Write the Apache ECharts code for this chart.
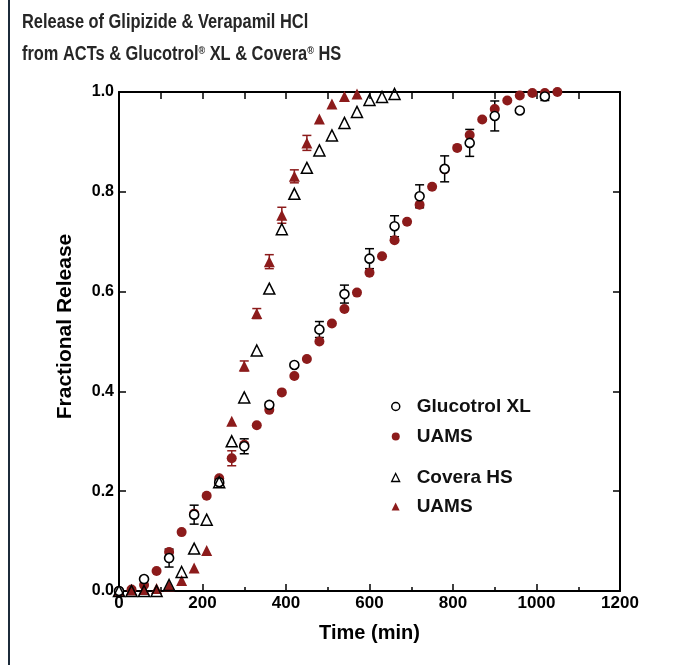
<!DOCTYPE html>
<html>
<head>
<meta charset="utf-8">
<script src="https://cdn.jsdelivr.net/npm/echarts@6/dist/echarts.min.js"></script>
<style>
html,body{margin:0;padding:0;background:#fff;}
#chart{width:698px;height:665px;}
</style>
</head>
<body>
<div id="chart"></div>
<script>
// ---- data ----
const glucotrolTime    = [0, 60, 120, 180, 240, 300, 360, 420, 480, 540, 600, 660, 720, 780, 840, 900, 960, 1020];
const glucotrolRelease = [0.0, 0.024, 0.066, 0.153, 0.218, 0.29, 0.373, 0.453, 0.524, 0.595, 0.666, 0.731, 0.791, 0.846, 0.898, 0.952, 0.963, 0.991];
const glucotrolErr     = [0, 0, 0.018, 0.019, 0.005, 0.015, 0.005, 0.004, 0.016, 0.018, 0.02, 0.021, 0.023, 0.026, 0.027, 0.03, 0, 0.008];

const uamsGTime    = [0, 30, 60, 90, 120, 150, 180, 210, 240, 270, 300, 330, 360, 390, 420, 450, 480, 510, 540, 570, 600, 630, 660, 690, 720, 750, 780, 810, 840, 870, 900, 930, 960, 990, 1020, 1050];
const uamsGRelease = [0.0, 0.003, 0.012, 0.04, 0.078, 0.118, 0.155, 0.191, 0.226, 0.266, 0.293, 0.332, 0.363, 0.398, 0.431, 0.465, 0.5, 0.536, 0.565, 0.598, 0.638, 0.671, 0.703, 0.74, 0.774, 0.81, 0.845, 0.888, 0.914, 0.945, 0.966, 0.983, 0.993, 0.998, 0.998, 1.0];
const uamsGErr     = [0, 0, 0, 0, 0, 0, 0, 0, 0, 0.015, 0, 0, 0, 0, 0, 0, 0, 0, 0, 0, 0, 0, 0, 0, 0, 0, 0, 0, 0, 0, 0, 0, 0, 0, 0, 0];

const coveraTime    = [0, 30, 60, 90, 120, 150, 180, 210, 240, 270, 300, 330, 360, 390, 420, 450, 480, 510, 540, 570, 600, 630, 660];
const coveraRelease = [0.0, 0.0, 0.0, 0.0, 0.012, 0.038, 0.085, 0.143, 0.218, 0.30, 0.388, 0.482, 0.606, 0.725, 0.796, 0.848, 0.883, 0.913, 0.938, 0.96, 0.984, 0.99, 0.996];

const uamsCTime    = [0, 30, 60, 90, 120, 150, 180, 210, 240, 270, 300, 330, 360, 390, 420, 450, 480, 510, 540, 570];
const uamsCRelease = [0.0, 0.002, 0.003, 0.005, 0.01, 0.021, 0.046, 0.081, 0.225, 0.34, 0.451, 0.556, 0.66, 0.753, 0.831, 0.898, 0.946, 0.976, 0.991, 0.996];
const uamsCErr     = [0, 0, 0, 0, 0, 0, 0, 0, 0, 0, 0.01, 0.01, 0.014, 0.016, 0.013, 0.015, 0, 0, 0, 0];

const titleLines = ['Release of Glipizide & Verapamil HCl', 'from ACTs & Glucotrol{sup|®} XL & Covera{sup|®} HS'];
const xAxisName = 'Time (min)';
const yAxisName = 'Fractional Release';

// ---- helpers ----
const red = '#8c1b1b';
const zip = (t, v) => t.map((x, i) => [x, v[i]]);
const zip3 = (t, v, e) => t.map((x, i) => [x, v[i], e[i]]).filter(d => d[2] > 0);
const labelFont = "'Liberation Sans', Arial, sans-serif";

function errRender(color) {
  return function (params, api) {
    const x = api.value(0), y = api.value(1), e = api.value(2);
    const top = api.coord([x, y + e]);
    const bot = api.coord([x, y - e]);
    const w = 4.5;
    const st = { stroke: color, lineWidth: 1.5 };
    return {
      type: 'group',
      children: [
        { type: 'line', shape: { x1: top[0], y1: top[1], x2: bot[0], y2: bot[1] }, style: st },
        { type: 'line', shape: { x1: top[0] - w, y1: top[1], x2: top[0] + w, y2: top[1] }, style: st },
        { type: 'line', shape: { x1: bot[0] - w, y1: bot[1], x2: bot[0] + w, y2: bot[1] }, style: st }
      ]
    };
  };
}

const chart = echarts.init(document.getElementById('chart'), null, { renderer: 'canvas' });

const legendText = { fontFamily: labelFont, fontWeight: 'bold', fontSize: 19, color: '#111', rich: { sp: { width: 12 } } };
const legendFmt = n => '{sp|}' + (n.indexOf('UAMS') === 0 ? 'UAMS' : n);

chart.setOption({
  animation: false,
  backgroundColor: '#fff',
  graphic: [
    { type: 'rect', left: 8, top: 0, shape: { width: 2, height: 665 }, style: { fill: '#1c2b3a' }, silent: true },
    {
      type: 'text', x: 22, y: 6, scaleX: 0.82, silent: true,
      style: {
        text: titleLines.join('\n'),
        fontFamily: labelFont, fontWeight: 'bold', fontSize: 20, lineHeight: 32,
        fill: '#262626', verticalAlign: 'top', align: 'left',
        rich: {
          sup: { fontFamily: labelFont, fontWeight: 'bold', fontSize: 11, lineHeight: 11,
                 verticalAlign: 'top', padding: [7, 0, 0, 0], fill: '#262626' }
        }
      }
    }
  ],
  grid: { left: 119, right: 78, top: 92, bottom: 74, containLabel: false },
  legend: [
    {
      orient: 'vertical', left: 391, top: 397, padding: 0,
      itemWidth: 8, itemHeight: 8, itemGap: 11,
      textStyle: legendText, formatter: legendFmt, selectedMode: false,
      data: [
        { name: 'Glucotrol XL', icon: 'circle', itemStyle: { color: '#fff', borderColor: '#000', borderWidth: 1.5 } },
        { name: 'UAMS_g', icon: 'circle', itemStyle: { color: red, borderWidth: 0 } }
      ]
    },
    {
      orient: 'vertical', left: 391, top: 468, padding: 0,
      itemWidth: 8, itemHeight: 8, itemGap: 10,
      textStyle: legendText, formatter: legendFmt, selectedMode: false,
      data: [
        { name: 'Covera HS', icon: 'triangle', itemStyle: { color: '#fff', borderColor: '#000', borderWidth: 1.3 } },
        { name: 'UAMS_c', icon: 'triangle', itemStyle: { color: red, borderWidth: 0 } }
      ]
    }
  ],
  xAxis: [
    {
      type: 'value', position: 'bottom', min: 0, max: 1200, interval: 200,
      axisLine: { show: true, onZero: false, lineStyle: { color: '#000', width: 2 } },
      axisTick: { show: true, inside: true, length: 7, lineStyle: { color: '#000', width: 1.5 } },
      minorTick: { show: true, splitNumber: 2, length: 4, lineStyle: { color: '#000', width: 1.5 } },
      splitLine: { show: false },
      axisLabel: { color: '#000', fontFamily: labelFont, fontWeight: 'bold', fontSize: 17, margin: 4,
                   formatter: v => String(v) },
      name: xAxisName, nameLocation: 'middle', nameGap: 32,
      nameTextStyle: { color: '#000', fontFamily: labelFont, fontWeight: 'bold', fontSize: 20 }
    },
    {
      type: 'value', position: 'top', min: 0, max: 1200, interval: 100,
      axisLine: { show: true, onZero: false, lineStyle: { color: '#000', width: 2 } },
      axisTick: { show: true, inside: true, length: 7, lineStyle: { color: '#000', width: 1.5 } },
      splitLine: { show: false },
      axisLabel: { show: false }
    }
  ],
  yAxis: [
    {
      type: 'value', position: 'left', min: 0, max: 1, interval: 0.2,
      axisLine: { show: true, onZero: false, lineStyle: { color: '#000', width: 2 } },
      axisTick: { show: true, inside: true, length: 7, lineStyle: { color: '#000', width: 1.5 } },
      splitLine: { show: false },
      axisLabel: { color: '#000', fontFamily: labelFont, fontWeight: 'bold', fontSize: 16, margin: 5,
                   formatter: v => v.toFixed(1) },
      name: yAxisName, nameLocation: 'middle', nameGap: 43, nameRotate: 90,
      nameTextStyle: { color: '#000', fontFamily: labelFont, fontWeight: 'bold', fontSize: 21, padding: [0, 0, 0, 30] }
    },
    {
      type: 'value', position: 'right', min: 0, max: 1, interval: 0.2,
      axisLine: { show: true, onZero: false, lineStyle: { color: '#000', width: 2 } },
      axisTick: { show: true, inside: true, length: 7, lineStyle: { color: '#000', width: 1.5 } },
      splitLine: { show: false },
      axisLabel: { show: false }
    }
  ],
  series: [
    {
      name: 'UAMS_g', type: 'scatter', symbol: 'circle', symbolSize: 10,
      itemStyle: { color: red, opacity: 1 },
      data: zip(uamsGTime, uamsGRelease)
    },
    {
      name: 'UAMS_c', type: 'scatter', symbol: 'triangle', symbolSize: 11,
      itemStyle: { color: red, opacity: 1 },
      data: zip(uamsCTime, uamsCRelease)
    },
    {
      name: 'errUAMS_g', type: 'custom', renderItem: errRender(red),
      data: zip3(uamsGTime, uamsGRelease, uamsGErr)
    },
    {
      name: 'errUAMS_c', type: 'custom', renderItem: errRender(red),
      data: zip3(uamsCTime, uamsCRelease, uamsCErr)
    },
    {
      name: 'errGlucotrol', type: 'custom', renderItem: errRender('#000'),
      data: zip3(glucotrolTime, glucotrolRelease, glucotrolErr)
    },
    {
      name: 'Glucotrol XL', type: 'scatter', symbol: 'circle', symbolSize: 9,
      itemStyle: { color: '#fff', borderColor: '#000', borderWidth: 1.6, opacity: 1 },
      data: zip(glucotrolTime, glucotrolRelease)
    },
    {
      name: 'Covera HS', type: 'scatter', symbol: 'triangle', symbolSize: 11,
      itemStyle: { color: 'rgba(255,255,255,0)', borderColor: '#000', borderWidth: 1.5, opacity: 1 },
      data: zip(coveraTime, coveraRelease)
    }
  ]
});
</script>
</body>
</html>
